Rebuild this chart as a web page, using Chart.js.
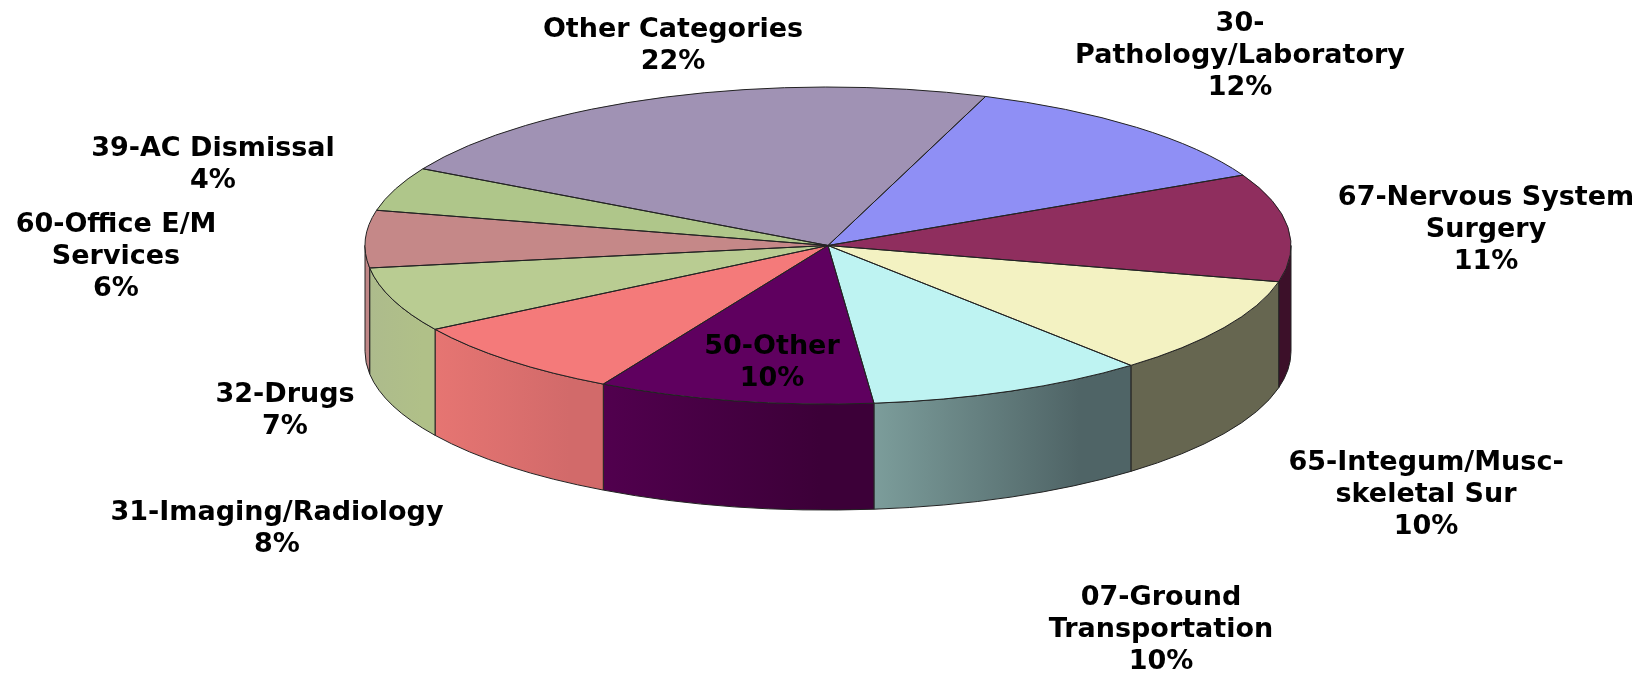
<!DOCTYPE html>
<html>
<head>
<meta charset="utf-8">
<title>Pie</title>
<script src="https://cdn.jsdelivr.net/npm/chart.js@4"></script>
<style>
  html, body { margin: 0; background: #fff; }
  canvas { display: block; }
</style>
</head>
<body>
<canvas id="pie" width="1644" height="674"></canvas>
<script>
// clockwise from the 30-Pathology slice
const categories = ['30-Pathology/Laboratory', '67-Nervous System Surgery', '65-Integum/Musc-skeletal Sur', '07-Ground Transportation', '50-Other', '31-Imaging/Radiology', '32-Drugs', '60-Office E/M Services', '39-AC Dismissal', 'Other Categories'];
const shares = [12.14, 10.99, 9.97, 9.76, 9.64, 8.06, 6.6, 5.83, 4.47, 22.47];

const topColors = ['#8f8ff5', '#8f2e5e', '#f3f2c2', '#bef3f2', '#5f005f', '#f47a7a', '#b9cc92', '#c58888', '#afc68a', '#a092b4'];
const wallLeft = ['#6b6bb8', '#3c1029', '#666650', '#7c9d9b', '#51004e', '#e67572', '#adbb8c', '#bf8686', '#839467', '#786d87'];
const wallRight = ['#6b6bb8', '#3c1029', '#666650', '#4f6466', '#3c0038', '#d26a6a', '#b0c088', '#bf8686', '#839467', '#786d87'];

// label text, line by line, and where the block sits
const labelLines = [
  ['30-', 'Pathology/Laboratory', '12%'],
  ['67-Nervous System', 'Surgery', '11%'],
  ['65-Integum/Musc-', 'skeletal Sur', '10%'],
  ['07-Ground', 'Transportation', '10%'],
  ['50-Other', '10%'],
  ['31-Imaging/Radiology', '8%'],
  ['32-Drugs', '7%'],
  ['60-Office E/M', 'Services', '6%'],
  ['39-AC Dismissal', '4%'],
  ['Other Categories', '22%']
];
const labelX = [1240, 1486, 1426, 1161, 772, 277, 285, 116, 213, 673];
const labelY = [24, 198, 463, 598, 347, 513, 395, 225, 149, 30];
const lineGap = 32;

const radiusX = 463;   // the library's circle gets stretched to this
const depth = 106;
const startDeg = 19.9;

const pie3d = {
  id: 'pie3d',
  beforeDatasetsDraw(chart) {
    const ctx = chart.ctx;
    const arcs = chart.getDatasetMeta(0).data;
    const cx = arcs[0].x, cy = arcs[0].y, ry = arcs[0].outerRadius;
    const px = a => cx + radiusX * Math.cos(a);

    // side walls: only the part of each slice in the front half shows
    arcs.forEach((arc, i) => {
      for (const shift of [0, Math.PI * 2]) {
        const a0 = Math.max(arc.startAngle - shift, 0);
        const a1 = Math.min(arc.endAngle - shift, Math.PI);
        if (a1 <= a0) continue;
        ctx.beginPath();
        ctx.ellipse(cx, cy, radiusX, ry, 0, a0, a1);
        ctx.ellipse(cx, cy + depth, radiusX, ry, 0, a1, a0, true);
        ctx.closePath();
        // a1 is the left end of the wall on screen
        const g = ctx.createLinearGradient(px(a1), 0, px(a0), 0);
        g.addColorStop(0, wallLeft[i]);
        g.addColorStop(0.8, wallRight[i]);
        g.addColorStop(1, wallRight[i]);
        ctx.fillStyle = g;
        ctx.fill();
        ctx.strokeStyle = '#222';
        ctx.lineWidth = 1;
        ctx.stroke();
      }
    });

    ctx.save();
    ctx.translate(cx, 0);
    ctx.scale(radiusX / ry, 1);
    ctx.translate(-cx, 0);
  },
  afterDatasetsDraw(chart) {
    const ctx = chart.ctx;
    ctx.restore();
    const arcs = chart.getDatasetMeta(0).data;
    const cx = arcs[0].x, cy = arcs[0].y, ry = arcs[0].outerRadius;
    ctx.strokeStyle = '#222';
    ctx.lineWidth = 1;
    arcs.forEach(arc => {
      ctx.beginPath();
      ctx.moveTo(cx, cy);
      ctx.ellipse(cx, cy, radiusX, ry, 0, arc.startAngle, arc.endAngle);
      ctx.closePath();
      ctx.stroke();
    });

    ctx.font = 'bold 27px "DejaVu Sans"';
    ctx.fillStyle = '#000';
    ctx.textAlign = 'center';
    ctx.textBaseline = 'middle';
    labelLines.forEach((lines, i) => {
      lines.forEach((line, k) => ctx.fillText(line, labelX[i], labelY[i] + k * lineGap));
    });
  }
};

new Chart(document.getElementById('pie'), {
  type: 'pie',
  data: {
    labels: categories,
    datasets: [{ data: shares, backgroundColor: topColors, borderWidth: 0 }]
  },
  options: {
    responsive: false,
    animation: false,
    rotation: startDeg,
    layout: { padding: { left: 12, right: 0, top: 87, bottom: 270 } },
    plugins: { legend: { display: false }, tooltip: { enabled: false } },
    events: []
  },
  plugins: [pie3d]
});
</script>
</body>
</html>
